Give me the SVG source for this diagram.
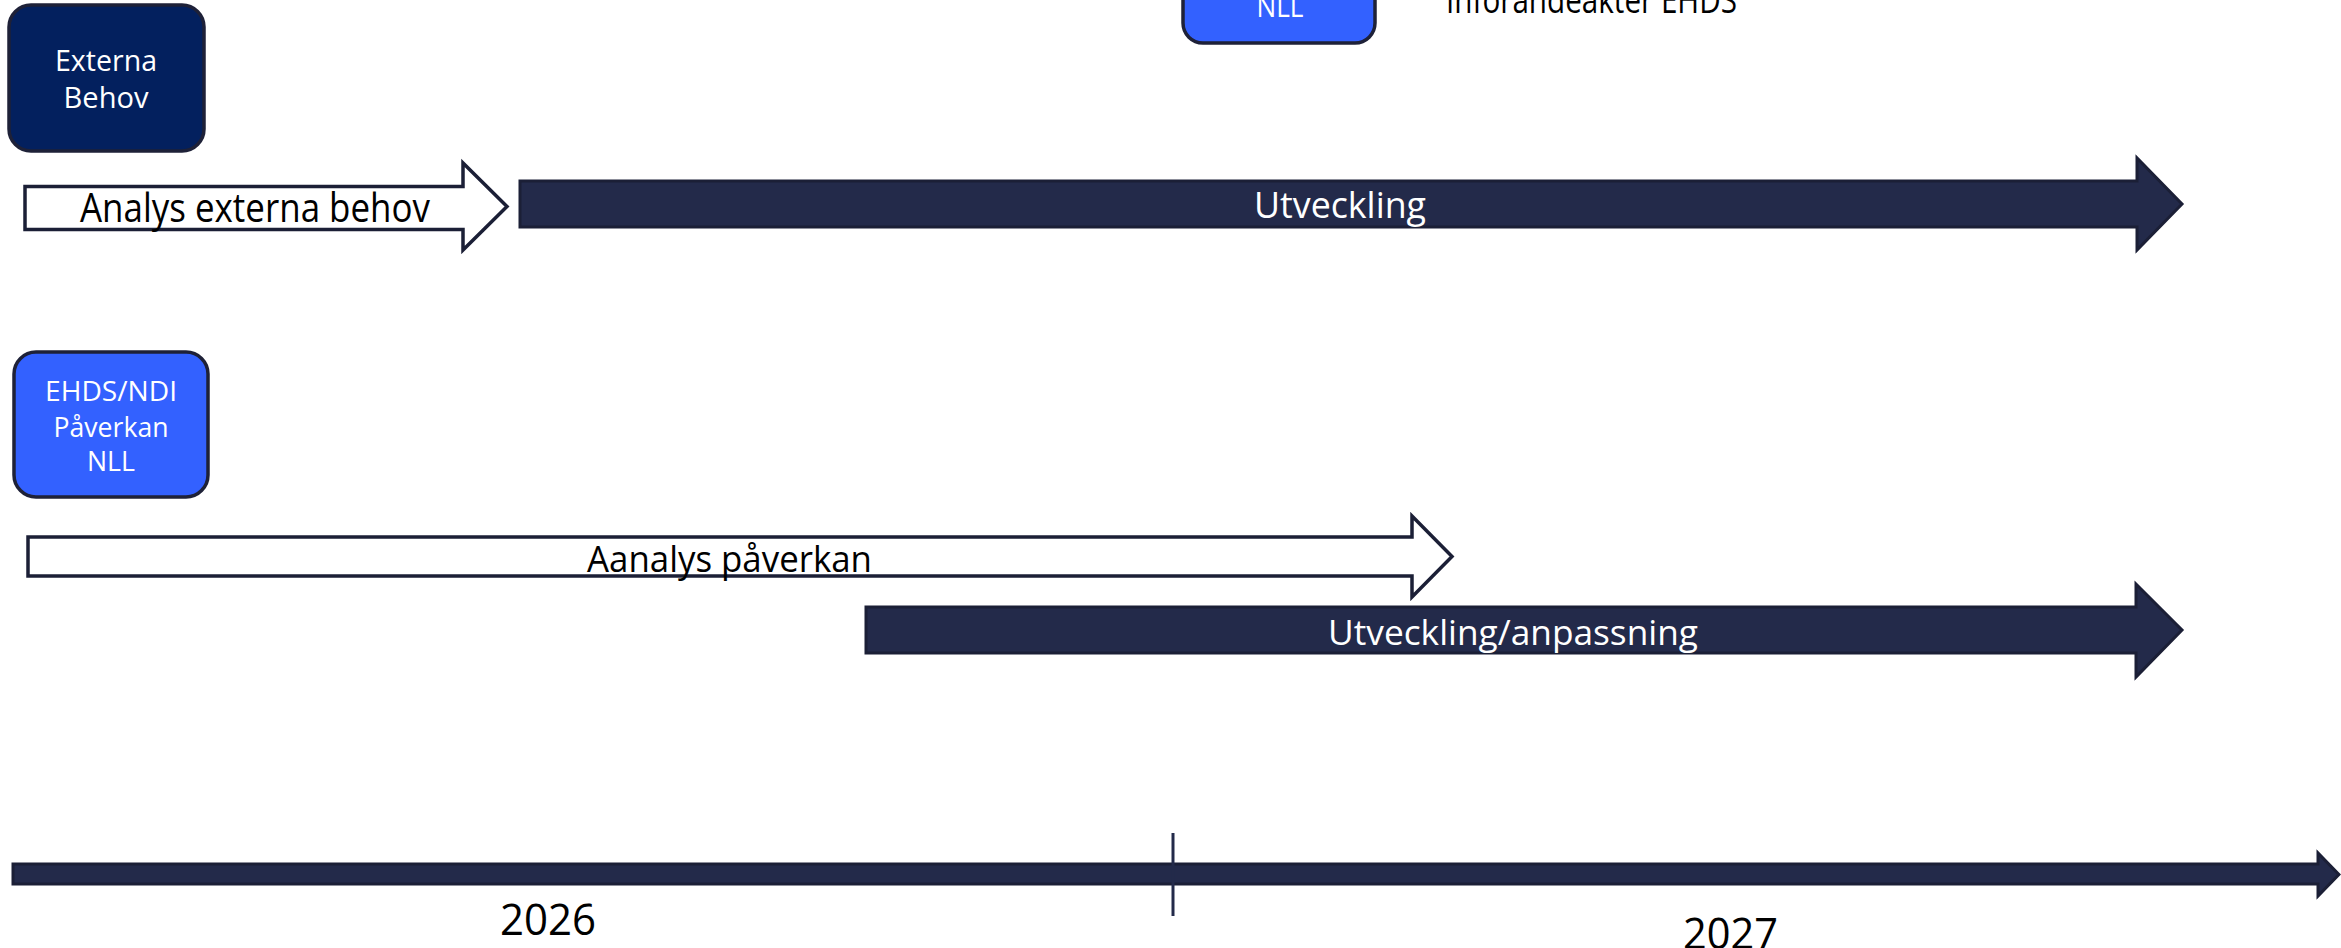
<svg xmlns="http://www.w3.org/2000/svg" width="2341" height="948" viewBox="0 0 2341 948">
<style>
.lbl{font-family:"Open Sans","Noto Sans","Liberation Sans",sans-serif;}
.w{fill:#ffffff;}
.k{fill:#000000;}
.boxDark{fill:#03205E;stroke:#1E2138;stroke-width:3.5;}
.boxBlue{fill:#3361FF;stroke:#1E2138;stroke-width:3.5;}
.arrW{fill:#ffffff;stroke:#1B1F36;stroke-width:3.5;stroke-linejoin:miter;}
.arrD{fill:#232A4A;stroke:#1B1F36;stroke-width:3;stroke-linejoin:miter;}
</style>
<rect width="2341" height="948" fill="#ffffff"/>

<g id="node-top-nll">
<rect class="boxBlue" x="1183" y="-102" width="192" height="145" rx="20"/>
<text class="lbl w" x="1280" y="17" font-size="29" text-anchor="middle" textLength="47" lengthAdjust="spacingAndGlyphs">NLL</text>
</g>

<g id="label-inforandeakter">
<text class="lbl k" x="1446" y="13" font-size="36" textLength="291" lengthAdjust="spacingAndGlyphs">Införandeakter EHDS</text>
</g>

<g id="node-externa-behov">
<rect class="boxDark" x="9" y="5" width="195" height="146" rx="22"/>
<text class="lbl w" x="106" y="71" font-size="29" text-anchor="middle" textLength="102" lengthAdjust="spacingAndGlyphs">Externa</text>
<text class="lbl w" x="106" y="108" font-size="29" text-anchor="middle" textLength="85" lengthAdjust="spacingAndGlyphs">Behov</text>
</g>

<g id="node-ehds">
<rect class="boxBlue" x="14" y="352" width="194" height="145" rx="22"/>
<text class="lbl w" x="111" y="401" font-size="28" text-anchor="middle" textLength="132" lengthAdjust="spacingAndGlyphs">EHDS/NDI</text>
<text class="lbl w" x="111" y="437" font-size="28" text-anchor="middle" textLength="115" lengthAdjust="spacingAndGlyphs">Påverkan</text>
<text class="lbl w" x="111" y="471" font-size="28" text-anchor="middle" textLength="48" lengthAdjust="spacingAndGlyphs">NLL</text>
</g>

<g id="node-analys-externa">
<path class="arrW" d="M25,186.5 H463 V163 L507,206.5 L463,250 V229.5 H25 Z"/>
<text class="lbl k" x="80" y="222" font-size="41" textLength="350" lengthAdjust="spacingAndGlyphs">Analys externa behov</text>
</g>

<g id="node-utveckling">
<path class="arrD" d="M520,181 H2137 V158 L2182,204 L2137,250 V227 H520 Z"/>
<text class="lbl w" x="1254" y="218" font-size="36" textLength="172" lengthAdjust="spacingAndGlyphs">Utveckling</text>
</g>

<g id="node-aanalys">
<path class="arrW" d="M28,537 H1412 V516 L1452,556.5 L1412,597 V576 H28 Z"/>
<text class="lbl k" x="587" y="572" font-size="36" textLength="285" lengthAdjust="spacingAndGlyphs">Aanalys påverkan</text>
</g>

<g id="node-utveckling-anpassning">
<path class="arrD" d="M866,607 H2136 V584 L2182,630 L2136,677 V653 H866 Z"/>
<text class="lbl w" x="1328" y="645" font-size="35" textLength="370" lengthAdjust="spacingAndGlyphs">Utveckling/anpassning</text>
</g>

<g id="connectors">
<path class="arrD" d="M13,864 H2318 V853 L2339,874.5 L2318,896 V884 H13 Z"/>
<line x1="1173" y1="833" x2="1173" y2="916" stroke="#232A4A" stroke-width="3"/>
</g>

<g id="timeline-labels">
<text class="lbl k" x="500" y="935" font-size="44" textLength="96" lengthAdjust="spacingAndGlyphs">2026</text>
<text class="lbl k" x="1683" y="949" font-size="44" textLength="95" lengthAdjust="spacingAndGlyphs">2027</text>
</g>
</svg>
